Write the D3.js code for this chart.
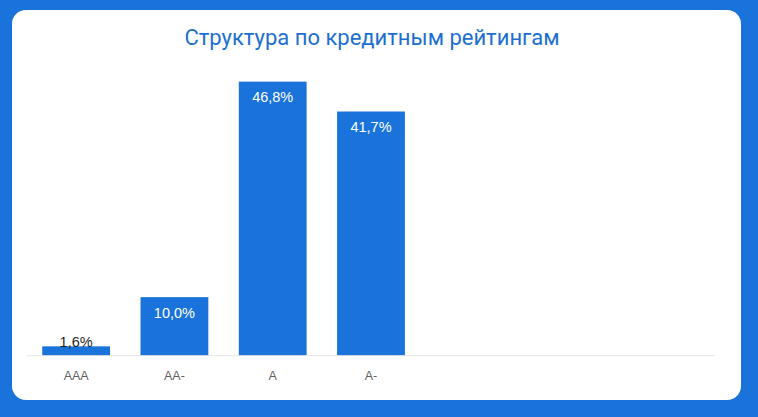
<!DOCTYPE html>
<html lang="ru">
<head>
<meta charset="UTF-8" />
<title>Структура по кредитным рейтингам</title>
<script src="https://cdn.jsdelivr.net/npm/d3@7"></script>
<style>
html, body { margin: 0; padding: 0; background: #1a73da; }
#chart { display: block; }
</style>
</head>
<body>
<svg id="chart" width="758" height="417"></svg>
<script>
// данные
const categories = ["AAA", "AA-", "A", "A-"];
const shares = [1.6, 10.0, 46.8, 41.7];
const valueLabels = ["1,6%", "10,0%", "46,8%", "41,7%"];
const slotCount = 7; // на оси 7 мест, заняты 4

const W = 758, H = 417;
const svg = d3.select('#chart');

// белая карточка
svg.append('rect').attr('x', 12).attr('y', 10).attr('width', 729).attr('height', 390)
  .attr('rx', 14).attr('fill', '#ffffff');

svg.append('text').attr('x', 372).attr('y', 45).attr('text-anchor', 'middle')
  .attr('font-family', 'Roboto, sans-serif').attr('font-size', 22)
  .attr('fill', '#1c6fd0').text('Структура по кредитным рейтингам');

const x = d3.scaleBand().domain(d3.range(slotCount)).range([27, 715])
  .paddingInner(0.31).paddingOuter(0.155);
const y = d3.scaleLinear().domain([0, 50]).range([355.7, 62.9]);

const data = categories.map((c, i) => ({ cat: c, v: shares[i], lab: valueLabels[i], i: i }));

// бары
svg.append('g').selectAll('rect').data(data).enter().append('rect')
  .attr('x', d => x(d.i)).attr('y', d => y(d.v))
  .attr('width', x.bandwidth()).attr('height', d => y(0) - y(d.v))
  .attr('fill', '#1a73da');

// ось
const axis = svg.append('g').attr('transform', `translate(0, ${y(0)})`)
  .call(d3.axisBottom(x).tickSize(0).tickFormat(i => categories[i] || ''));
axis.select('.domain').attr('stroke', '#e6e6e6').attr('stroke-width', 1)
  .attr('d', `M${x.range()[0]},0H${x.range()[1]}`);
axis.selectAll('text').attr('dy', 0).attr('y', 24)
  .attr('font-family', '"Liberation Sans", Arial, sans-serif').attr('font-size', 12.5)
  .attr('fill', '#5f5f5f');

// подписи значений
svg.append('g').selectAll('text').data(data).enter().append('text')
  .attr('x', d => x(d.i) + x.bandwidth() / 2)
  .attr('y', d => (y(0) - y(d.v) < 20) ? y(d.v) + 1 : y(d.v) + 20.5)
  .attr('text-anchor', 'middle')
  .attr('font-family', '"Liberation Sans", Arial, sans-serif').attr('font-size', 14.5)
  .attr('fill', d => (y(0) - y(d.v) < 20) ? '#1f1f1f' : '#ffffff')
  .text(d => d.lab);
</script>
</body>
</html>
